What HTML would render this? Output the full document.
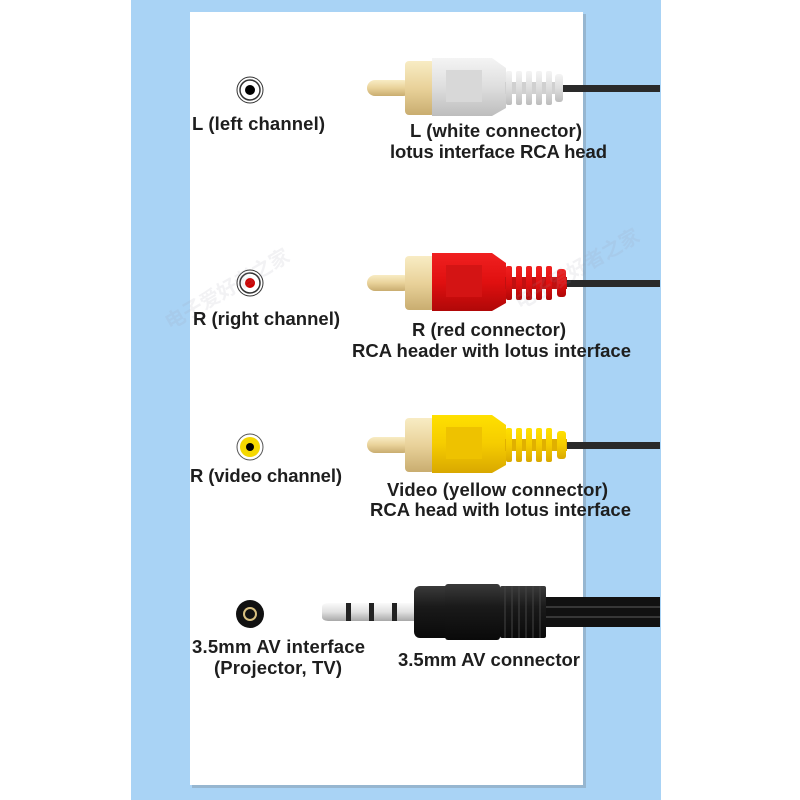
<!DOCTYPE html>
<html><head><meta charset="utf-8"><style>
html,body{margin:0;padding:0;background:#fff;}
svg{display:block;}
text{font-family:"Liberation Sans","Noto Sans CJK SC",sans-serif;font-weight:bold;font-size:18.5px;fill:#1e1e1e;}
</style></head><body>
<svg width="800" height="800" viewBox="0 0 800 800" xmlns="http://www.w3.org/2000/svg">
<defs>
<linearGradient id="pin" x1="0" y1="0" x2="0" y2="1"><stop offset="0" stop-color="#f8ecc4"/><stop offset=".5" stop-color="#e9d29a"/><stop offset="1" stop-color="#c9ad70"/></linearGradient>
<linearGradient id="wh" x1="0" y1="0" x2="0" y2="1"><stop offset="0" stop-color="#f4f4f4"/><stop offset=".5" stop-color="#dedede"/><stop offset="1" stop-color="#bdbdbd"/></linearGradient>
<linearGradient id="rd" x1="0" y1="0" x2="0" y2="1"><stop offset="0" stop-color="#f02020"/><stop offset=".5" stop-color="#e01010"/><stop offset="1" stop-color="#b00808"/></linearGradient>
<linearGradient id="ye" x1="0" y1="0" x2="0" y2="1"><stop offset="0" stop-color="#ffe000"/><stop offset=".5" stop-color="#f5cc00"/><stop offset="1" stop-color="#d9a800"/></linearGradient>
<linearGradient id="bk" x1="0" y1="0" x2="0" y2="1"><stop offset="0" stop-color="#3a3a3a"/><stop offset=".4" stop-color="#1a1a1a"/><stop offset="1" stop-color="#0a0a0a"/></linearGradient>
<linearGradient id="sv" x1="0" y1="0" x2="0" y2="1"><stop offset="0" stop-color="#fafafa"/><stop offset=".5" stop-color="#e0e0e0"/><stop offset="1" stop-color="#a8a8a8"/></linearGradient>
</defs>
<rect x="131" y="0" width="530" height="800" fill="#a9d3f5"/>
<rect x="192" y="14" width="394" height="774" fill="#8aa4b8" opacity=".6"/>
<rect x="190" y="12" width="393" height="773" fill="#fff"/>

<!-- white RCA -->
<g transform="translate(0,88)">
<rect x="560" y="-3" width="100" height="7" fill="#2a2a2a"/>
<rect x="367" y="-8" width="44" height="16" rx="8" fill="url(#pin)"/>
<rect x="405" y="-27" width="30" height="54" rx="4" fill="url(#pin)"/>
<path d="M432 -30 L492 -30 L506 -20 L506 20 L492 28 L432 28 Z" fill="url(#wh)"/>
<rect x="446" y="-18" width="36" height="32" fill="#d8d8d8"/>
<rect x="505" y="-6" width="58" height="12" fill="#d0d0d0"/>
<g fill="url(#wh)"><rect x="506" y="-17" width="6" height="34" rx="2"/><rect x="516" y="-17" width="6" height="34" rx="2"/><rect x="526" y="-17" width="6" height="34" rx="2"/><rect x="536" y="-17" width="6" height="34" rx="2"/><rect x="546" y="-17" width="6" height="34" rx="2"/><rect x="555" y="-14" width="8" height="28" rx="3"/></g>
</g>
<!-- red RCA -->
<g transform="translate(0,283)">
<rect x="565" y="-3" width="95" height="7" fill="#2a2a2a"/>
<rect x="367" y="-8" width="44" height="16" rx="8" fill="url(#pin)"/>
<rect x="405" y="-27" width="30" height="54" rx="4" fill="url(#pin)"/>
<path d="M432 -30 L492 -30 L506 -20 L506 20 L492 28 L432 28 Z" fill="url(#rd)"/>
<rect x="446" y="-18" width="36" height="32" fill="#d41414"/>
<rect x="505" y="-6" width="62" height="12" fill="#c01010"/>
<g fill="url(#rd)"><rect x="506" y="-17" width="6" height="34" rx="2"/><rect x="516" y="-17" width="6" height="34" rx="2"/><rect x="526" y="-17" width="6" height="34" rx="2"/><rect x="536" y="-17" width="6" height="34" rx="2"/><rect x="546" y="-17" width="6" height="34" rx="2"/><rect x="557" y="-14" width="9" height="28" rx="3"/></g>
</g>
<!-- yellow RCA -->
<g transform="translate(0,445)">
<rect x="565" y="-3" width="95" height="7" fill="#2a2a2a"/>
<rect x="367" y="-8" width="44" height="16" rx="8" fill="url(#pin)"/>
<rect x="405" y="-27" width="30" height="54" rx="4" fill="url(#pin)"/>
<path d="M432 -30 L492 -30 L506 -20 L506 20 L492 28 L432 28 Z" fill="url(#ye)"/>
<rect x="446" y="-18" width="36" height="32" fill="#eec200"/>
<rect x="505" y="-6" width="62" height="12" fill="#e0b000"/>
<g fill="url(#ye)"><rect x="506" y="-17" width="6" height="34" rx="2"/><rect x="516" y="-17" width="6" height="34" rx="2"/><rect x="526" y="-17" width="6" height="34" rx="2"/><rect x="536" y="-17" width="6" height="34" rx="2"/><rect x="546" y="-17" width="6" height="34" rx="2"/><rect x="557" y="-14" width="9" height="28" rx="3"/></g>
</g>
<!-- 3.5mm plug -->
<g transform="translate(0,612)">
<rect x="540" y="-15" width="120" height="30" fill="#111"/>
<line x1="545" y1="-5" x2="660" y2="-5" stroke="#444" stroke-width="1.5"/>
<line x1="545" y1="5" x2="660" y2="5" stroke="#444" stroke-width="1.5"/>
<path d="M322 -5 Q322 -9 330 -9 L418 -9 L418 9 L330 9 Q322 9 322 5 Z" fill="url(#sv)"/>
<rect x="346" y="-9" width="5" height="18" fill="#222"/>
<rect x="369" y="-9" width="5" height="18" fill="#222"/>
<rect x="392" y="-9" width="5" height="18" fill="#222"/>
<rect x="414" y="-26" width="40" height="52" rx="6" fill="url(#bk)"/>
<rect x="445" y="-28" width="55" height="56" rx="3" fill="url(#bk)"/>
<rect x="500" y="-26" width="46" height="52" rx="2" fill="url(#bk)"/>
<g stroke="#444" stroke-width="1"><line x1="505" y1="-26" x2="505" y2="26"/><line x1="512" y1="-26" x2="512" y2="26"/><line x1="519" y1="-26" x2="519" y2="26"/><line x1="526" y1="-26" x2="526" y2="26"/><line x1="533" y1="-26" x2="533" y2="26"/><line x1="540" y1="-26" x2="540" y2="26"/></g>
</g>

<!-- jacks -->
<circle cx="250" cy="90" r="13" fill="#fff" stroke="#333" stroke-width="1"/>
<circle cx="250" cy="90" r="10" fill="#fff" stroke="#333" stroke-width="1.5"/>
<circle cx="250" cy="90" r="5" fill="#000"/>
<circle cx="250" cy="283" r="13" fill="#fff" stroke="#333" stroke-width="1"/>
<circle cx="250" cy="283" r="10" fill="#fff" stroke="#333" stroke-width="1.5"/>
<circle cx="250" cy="283" r="5" fill="#c00"/>
<circle cx="250" cy="447" r="13" fill="#fff" stroke="#555" stroke-width="1"/>
<circle cx="250" cy="447" r="10" fill="#f5d800"/>
<circle cx="250" cy="447" r="4" fill="#000"/>
<circle cx="250" cy="614" r="14" fill="#111"/>
<circle cx="250" cy="614" r="7" fill="#d8c080"/>
<circle cx="250" cy="614" r="5" fill="#111"/>

<!-- watermark -->
<g opacity=".12" style="font-weight:normal">
<text x="170" y="330" transform="rotate(-30 170 330)" style="fill:#99a;font-size:20px">电子爱好者之家</text>
<text x="520" y="310" transform="rotate(-30 520 310)" style="fill:#99a;font-size:20px">电子爱好者之家</text>
</g>

<!-- labels -->
<text x="192" y="130" textLength="133">L (left channel)</text>
<text x="410" y="137" textLength="172">L (white connector)</text>
<text x="390" y="158" textLength="217">lotus interface RCA head</text>
<text x="193" y="325" textLength="147">R (right channel)</text>
<text x="412" y="336" textLength="154">R (red connector)</text>
<text x="352" y="357" textLength="279">RCA header with lotus interface</text>
<text x="190" y="482" textLength="152">R (video channel)</text>
<text x="387" y="496" textLength="221">Video (yellow connector)</text>
<text x="370" y="516" textLength="261">RCA head with lotus interface</text>
<text x="192" y="653" textLength="173">3.5mm AV interface</text>
<text x="214" y="674" textLength="128">(Projector, TV)</text>
<text x="398" y="666" textLength="182">3.5mm AV connector</text>
</svg>
</body></html>
